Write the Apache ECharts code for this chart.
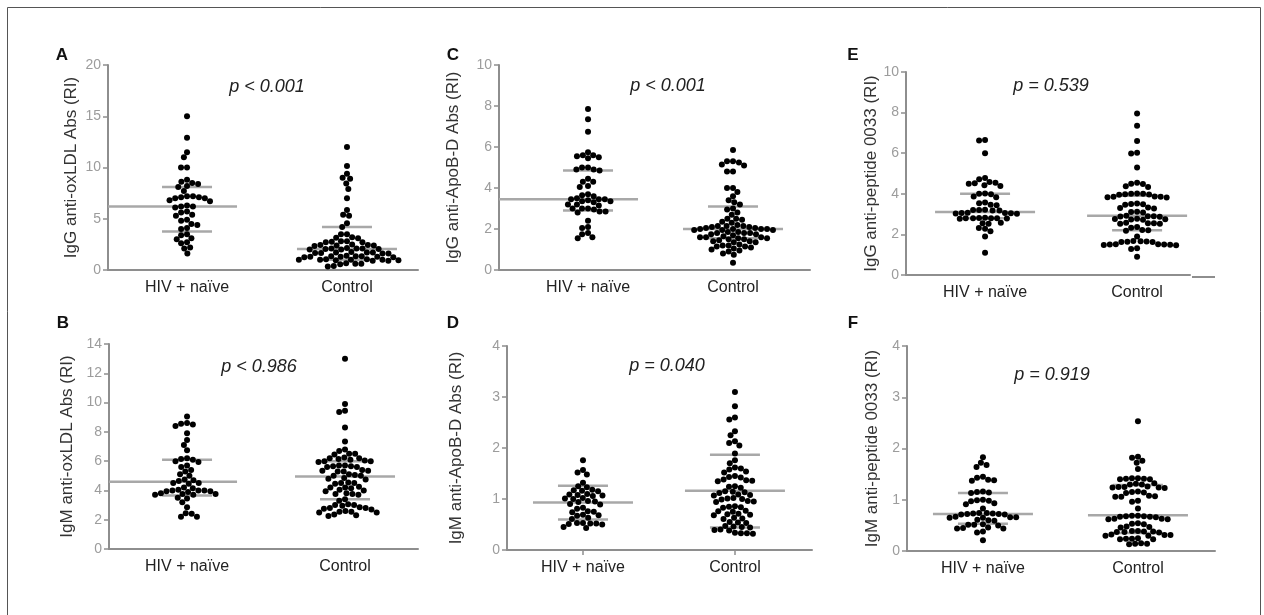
<!DOCTYPE html>
<html>
<head>
<meta charset="utf-8">
<script src="https://cdn.jsdelivr.net/npm/echarts@6/dist/echarts.min.js"></script>
<style>
  html, body { margin: 0; padding: 0; background: #fff; }
  #main { width: 1264px; height: 615px; }
</style>
</head>
<body>
<div id="main"></div>
<script>
// groups on every x axis
const groups = ['HIV + naïve', 'Control'];

// A: IgG anti-oxLDL
const aHiv = [15.0, 12.9, 11.5, 11.0, 10.0, 10.0, 8.8, 8.6, 8.5, 8.4, 8.2, 8.1, 7.7, 7.2, 7.2, 7.1, 7.1, 7.0, 7.0, 6.8, 6.7,
  6.3, 6.2, 6.2, 6.1, 5.7, 5.6, 5.4, 5.3, 4.9, 4.8, 4.5, 4.4, 4.1, 4.0, 3.5, 3.4, 3.1, 3.0, 2.7, 2.6, 2.2, 2.1, 1.6];
const aCtl = [12.0, 10.15, 9.4, 9.0, 8.9, 8.45, 7.9, 7.0, 5.85, 5.4, 5.3, 4.55, 4.2, 3.5, 3.5, 3.2, 3.15, 3.1,
  2.8, 2.8, 2.75, 2.7, 2.7, 2.5, 2.45, 2.45, 2.4, 2.4, 2.35, 2.15, 2.1, 2.1, 2.1, 2.05, 2.05, 2.0, 2.0,
  1.75, 1.7, 1.7, 1.7, 1.65, 1.65, 1.6, 1.6, 1.4, 1.35, 1.35, 1.35, 1.3, 1.3, 1.3, 1.25, 1.25,
  1.05, 1.05, 1.0, 1.0, 1.0, 1.0, 0.95, 0.95, 0.9, 0.9, 0.65, 0.6, 0.6, 0.55, 0.4, 0.35];
// B: IgM anti-oxLDL
const bHiv = [9.05, 8.6, 8.55, 8.5, 8.4, 7.9, 7.45, 7.1, 6.75, 6.2, 6.15, 6.1, 6.0, 5.95, 5.7, 5.6, 5.4, 5.3, 5.1, 5.0,
  4.75, 4.7, 4.65, 4.5, 4.5, 4.45, 4.2, 4.15, 4.05, 4.0, 4.0, 4.0, 3.95, 3.95, 3.9, 3.8, 3.75, 3.75, 3.7, 3.7,
  3.5, 3.45, 3.2, 2.85, 2.45, 2.4, 2.2, 2.2];
const bCtl = [13.0, 9.9, 9.45, 9.35, 8.3, 7.35, 6.8, 6.7, 6.5, 6.5, 6.45, 6.25, 6.2, 6.2, 6.15, 6.1, 6.05, 6.0, 6.0, 5.95,
  5.7, 5.7, 5.65, 5.65, 5.6, 5.6, 5.4, 5.35, 5.35, 5.3, 5.3, 5.1, 5.05, 5.0, 5.0, 4.85, 4.8, 4.75, 4.55, 4.5, 4.5, 4.45,
  4.25, 4.2, 4.2, 4.15, 4.05, 4.0, 3.95, 3.8, 3.75, 3.75, 3.7, 3.4, 3.3, 3.05, 3.0, 3.0, 2.95, 2.85, 2.8, 2.8, 2.75,
  2.7, 2.6, 2.55, 2.55, 2.5, 2.5, 2.35, 2.3, 2.25];
// C: IgG anti-ApoB-D
const cHiv = [7.85, 7.35, 6.75, 5.75, 5.6, 5.6, 5.55, 5.5, 5.45, 5.0, 5.0, 4.9, 4.9, 4.85, 4.45, 4.3, 4.3, 4.1, 4.05,
  3.7, 3.65, 3.6, 3.5, 3.45, 3.45, 3.45, 3.4, 3.35, 3.35, 3.3, 3.2, 3.2, 3.15, 3.0, 3.0, 3.0, 2.95, 2.85, 2.85, 2.8,
  2.4, 2.1, 2.05, 1.8, 1.75, 1.6, 1.55];
const cCtl = [5.85, 5.3, 5.3, 5.25, 5.15, 5.1, 4.8, 4.8, 4.0, 4.0, 3.8, 3.6, 3.4, 3.3, 3.2, 3.0, 2.95, 2.8, 2.7, 2.5,
  2.5, 2.45, 2.35, 2.3, 2.2, 2.15, 2.15, 2.15, 2.1, 2.1, 2.05, 2.05, 2.0, 2.0, 2.0, 2.0, 1.95, 1.95, 1.95, 1.85, 1.85,
  1.8, 1.8, 1.8, 1.75, 1.75, 1.7, 1.65, 1.6, 1.6, 1.6, 1.55, 1.55, 1.5, 1.5, 1.45, 1.4, 1.4, 1.35, 1.35, 1.25, 1.2,
  1.2, 1.15, 1.15, 1.1, 1.05, 1.0, 0.95, 0.9, 0.8, 0.75, 0.35];
// D: IgM anti-ApoB-D
const dHiv = [1.76, 1.57, 1.52, 1.48, 1.32, 1.25, 1.23, 1.18, 1.17, 1.16, 1.15, 1.1, 1.09, 1.08, 1.07, 1.06, 1.02, 1.01,
  1.0, 0.96, 0.95, 0.94, 0.9, 0.89, 0.83, 0.81, 0.76, 0.75, 0.74, 0.69, 0.68, 0.67, 0.63, 0.61, 0.53, 0.53, 0.52, 0.52,
  0.51, 0.5, 0.45, 0.43];
const dCtl = [3.1, 2.82, 2.6, 2.56, 2.33, 2.25, 2.13, 2.1, 2.05, 1.89, 1.76, 1.7, 1.62, 1.6, 1.58, 1.54, 1.52, 1.45,
  1.43, 1.42, 1.38, 1.37, 1.36, 1.35, 1.25, 1.24, 1.22, 1.15, 1.14, 1.13, 1.12, 1.09, 1.08, 1.07, 1.02, 1.01, 1.0,
  0.99, 0.96, 0.95, 0.94, 0.86, 0.85, 0.84, 0.83, 0.77, 0.76, 0.75, 0.71, 0.7, 0.69, 0.68, 0.63, 0.62, 0.61, 0.55,
  0.54, 0.53, 0.47, 0.46, 0.45, 0.44, 0.4, 0.39, 0.38, 0.34, 0.33, 0.33, 0.32];
// E: IgG anti-peptide 0033
const eHiv = [6.65, 6.62, 6.0, 4.78, 4.72, 4.58, 4.55, 4.52, 4.5, 4.42, 4.38, 4.02, 4.0, 3.98, 3.87, 3.83, 3.57, 3.53,
  3.46, 3.44, 3.22, 3.2, 3.2, 3.18, 3.18, 3.07, 3.06, 3.05, 3.04, 3.03, 3.02, 2.82, 2.81, 2.8, 2.8, 2.8, 2.79, 2.78,
  2.77, 2.57, 2.55, 2.52, 2.32, 2.28, 2.15, 1.9, 1.1];
const eCtl = [7.95, 7.35, 6.6, 6.02, 5.98, 5.3, 4.55, 4.5, 4.48, 4.37, 4.33, 4.02, 4.0, 4.0, 3.98, 3.97, 3.95, 3.87,
  3.85, 3.85, 3.83, 3.82, 3.52, 3.5, 3.48, 3.46, 3.32, 3.3, 3.28, 3.12, 3.1, 3.08, 2.92, 2.9, 2.9, 2.88, 2.87, 2.77,
  2.76, 2.75, 2.73, 2.72, 2.57, 2.55, 2.55, 2.53, 2.52, 2.37, 2.33, 2.22, 2.2, 2.18, 1.9, 1.67, 1.66, 1.65, 1.64,
  1.63, 1.62, 1.52, 1.51, 1.5, 1.5, 1.49, 1.48, 1.47, 1.32, 1.28, 0.9];
// F: IgM anti-peptide 0033
const fHiv = [1.83, 1.72, 1.68, 1.64, 1.45, 1.43, 1.39, 1.38, 1.37, 1.16, 1.15, 1.14, 1.13, 1.0, 0.99, 0.98, 0.97,
  0.93, 0.91, 0.83, 0.74, 0.74, 0.73, 0.73, 0.72, 0.72, 0.71, 0.71, 0.67, 0.66, 0.66, 0.65, 0.65, 0.61, 0.6, 0.59,
  0.52, 0.51, 0.51, 0.5, 0.46, 0.45, 0.44, 0.44, 0.38, 0.36, 0.21];
const fCtl = [2.53, 1.84, 1.82, 1.76, 1.72, 1.6, 1.42, 1.42, 1.41, 1.41, 1.4, 1.4, 1.32, 1.31, 1.3, 1.3, 1.26, 1.25,
  1.25, 1.24, 1.24, 1.23, 1.16, 1.15, 1.14, 1.13, 1.08, 1.07, 1.06, 1.06, 0.98, 0.96, 0.83, 0.69, 0.69, 0.68, 0.68,
  0.67, 0.67, 0.66, 0.63, 0.63, 0.62, 0.62, 0.54, 0.53, 0.52, 0.48, 0.47, 0.46, 0.39, 0.39, 0.38, 0.38, 0.37, 0.37,
  0.36, 0.32, 0.31, 0.31, 0.3, 0.3, 0.25, 0.24, 0.24, 0.23, 0.23, 0.15, 0.14, 0.14, 0.13];

// median, Q1, Q3 per group, as drawn in the figure
const aStats = [[6.2, 3.75, 8.1], [2.05, 1.0, 4.2]];
const bStats = [[4.6, 3.65, 6.1], [4.95, 3.4, 6.0]];
const cStats = [[3.45, 2.9, 4.85], [2.0, 1.55, 3.1]];
const dStats = [[0.93, 0.6, 1.26], [1.16, 0.44, 1.87]];
const eStats = [[3.1, 2.8, 4.0], [2.92, 2.2, 3.9]];
const fStats = [[0.72, 0.53, 1.13], [0.7, 0.35, 1.29]];

const letters = ['A', 'B', 'C', 'D', 'E', 'F'];
const pLabels = ['p < 0.001', 'p < 0.986', 'p < 0.001', 'p = 0.040', 'p = 0.539', 'p = 0.919'];
const yTitles = ['IgG anti-oxLDL Abs (RI)', 'IgM anti-oxLDL Abs (RI)', 'IgG anti-ApoB-D Abs (RI)',
  'IgM anti-ApoB-D Abs (RI)', 'IgG anti-peptide 0033 (RI)', 'IgM anti-peptide 0033 (RI)'];
const yMaxes = [20, 14, 10, 4, 10, 4];
const yIntervals = [5, 2, 2, 1, 2, 1];

const panelData = [[aHiv, aCtl, aStats], [bHiv, bCtl, bStats], [cHiv, cCtl, cStats],
  [dHiv, dCtl, dStats], [eHiv, eCtl, eStats], [fHiv, fCtl, fStats]];

// layout of each panel (pixels)
const boxes = [
  {left: 108, top: 65, w: 310, h: 205, xMin: 0.506, xMax: 2.444, gap: 28, lx: 62, ly: 55, px: 267, py: 87, medToAxis: true},
  {left: 109, top: 344, w: 309, h: 205, xMin: 0.506, xMax: 2.462, gap: 33, lx: 63, ly: 323, px: 259, py: 367, medToAxis: true},
  {left: 499, top: 65, w: 311, h: 205, xMin: 0.386, xMax: 2.531, gap: 37, lx: 453, ly: 55, px: 668, py: 86, medToAxis: true},
  {left: 507, top: 346, w: 305, h: 204, xMin: 0.5, xMax: 2.507, gap: 42, lx: 453, ly: 323, px: 667, py: 366, xTicks: true},
  {left: 906, top: 72, w: 284, h: 203, xMin: 0.48, xMax: 2.348, gap: 26, lx: 853, ly: 55, px: 1051, py: 86},
  {left: 907, top: 346, w: 308, h: 205, xMin: 0.51, xMax: 2.497, gap: 26, lx: 853, ly: 323, px: 1052, py: 375}
];

const font = '"Liberation Sans", Arial, Helvetica, sans-serif';
const axisGray = '#8e8e8e';
const DOT = 6;

// simple beeswarm: offset (px) of each value, nearest free spot to the centre line
function swarm(values, pxPerY, d) {
  const order = values.map((v, i) => i).sort((a, b) => values[b] - values[a]);
  const placed = [];
  const offs = new Array(values.length);
  order.forEach(i => {
    const y = values[i] * pxPerY;
    const blocks = [];
    const cands = [0];
    placed.forEach(p => {
      const dy = Math.abs(p.y - y);
      if (dy < d) {
        const dx = Math.sqrt(d * d - dy * dy);
        blocks.push([p.x - dx, p.x + dx]);
        cands.push(p.x - dx, p.x + dx);
      }
    });
    cands.sort((a, b) => Math.abs(a) - Math.abs(b));
    const x = cands.find(c => blocks.every(b => c <= b[0] + 1e-6 || c >= b[1] - 1e-6));
    offs[i] = x;
    placed.push({x: x, y: y});
  });
  return offs;
}

const option = {
  animation: false,
  backgroundColor: '#fff',
  grid: [], xAxis: [], yAxis: [], series: [],
  graphic: [
    {type: 'rect', shape: {x: 7.5, y: 7.5, width: 1253, height: 630}, style: {fill: null, stroke: '#555', lineWidth: 1}},
    // short stray segment at the end of panel E's x axis
    {type: 'line', shape: {x1: 1192, y1: 277, x2: 1215, y2: 277}, style: {stroke: axisGray, lineWidth: 2}}
  ]
};

boxes.forEach((b, i) => {
  const [hiv, ctl, stats] = panelData[i];
  const pxPerY = b.h / yMaxes[i];
  const pxPerX = b.w / (b.xMax - b.xMin);

  option.grid.push({left: b.left, top: b.top, width: b.w, height: b.h, containLabel: false, outerBoundsMode: 'none'});
  option.xAxis.push({
    type: 'value', gridIndex: i, min: b.xMin, max: b.xMax,
    splitLine: {show: false},
    axisLine: {show: true, onZero: false, lineStyle: {color: axisGray, width: 2}},
    axisTick: {show: !!b.xTicks, customValues: [1, 2], length: 5, lineStyle: {color: axisGray, width: 1.5}},
    axisLabel: {customValues: [1, 2], formatter: v => groups[Math.round(v) - 1],
      fontSize: 16, color: '#222', margin: 10, fontFamily: font}
  });
  option.yAxis.push({
    type: 'value', gridIndex: i, min: 0, max: yMaxes[i], interval: yIntervals[i],
    name: yTitles[i], nameLocation: 'middle', nameGap: b.gap,
    nameTextStyle: {fontSize: 17, color: '#333', fontFamily: font},
    splitLine: {show: false},
    axisLine: {show: true, lineStyle: {color: axisGray, width: 2}},
    axisTick: {show: true, length: 5, lineStyle: {color: axisGray, width: 1.5}},
    axisLabel: {fontSize: 14, color: '#9c9c9c', margin: 7, fontFamily: font}
  });

  // median / quartile bars
  const lineData = [];
  stats.forEach((s, g) => {
    lineData.push([g + 1, s[0], 0], [g + 1, s[1], 1], [g + 1, s[2], 2]);
  });
  option.series.push({
    type: 'custom', xAxisIndex: i, yAxisIndex: i, z: 1, silent: true,
    data: lineData,
    renderItem: (params, api) => {
      const c = api.coord([api.value(0), api.value(1)]);
      const kind = api.value(2);
      const half = kind === 0 ? 50 : 25;
      let x1 = c[0] - half;
      if (kind === 0 && api.value(0) === 1 && b.medToAxis) x1 = params.coordSys.x;
      return {type: 'line', shape: {x1: x1, y1: c[1], x2: c[0] + half, y2: c[1]},
        style: {stroke: '#a8a8a8', lineWidth: 2.5}};
    }
  });

  [hiv, ctl].forEach((vals, g) => {
    const offs = swarm(vals, pxPerY, DOT);
    option.series.push({
      type: 'scatter', xAxisIndex: i, yAxisIndex: i, z: 2, silent: true,
      symbolSize: DOT, itemStyle: {color: '#000', opacity: 1},
      data: vals.map((v, k) => [g + 1 + offs[k] / pxPerX, v])
    });
  });

  option.graphic.push(
    {type: 'text', x: b.lx, y: b.ly, style: {text: letters[i], font: 'bold 17px ' + font, fill: '#111',
      align: 'center', verticalAlign: 'middle'}},
    {type: 'text', x: b.px, y: b.py, style: {text: pLabels[i], font: 'italic 18px ' + font, fill: '#222',
      align: 'center', verticalAlign: 'middle'}}
  );
});

const chart = echarts.init(document.getElementById('main'));
chart.setOption(option);
</script>
</body>
</html>
